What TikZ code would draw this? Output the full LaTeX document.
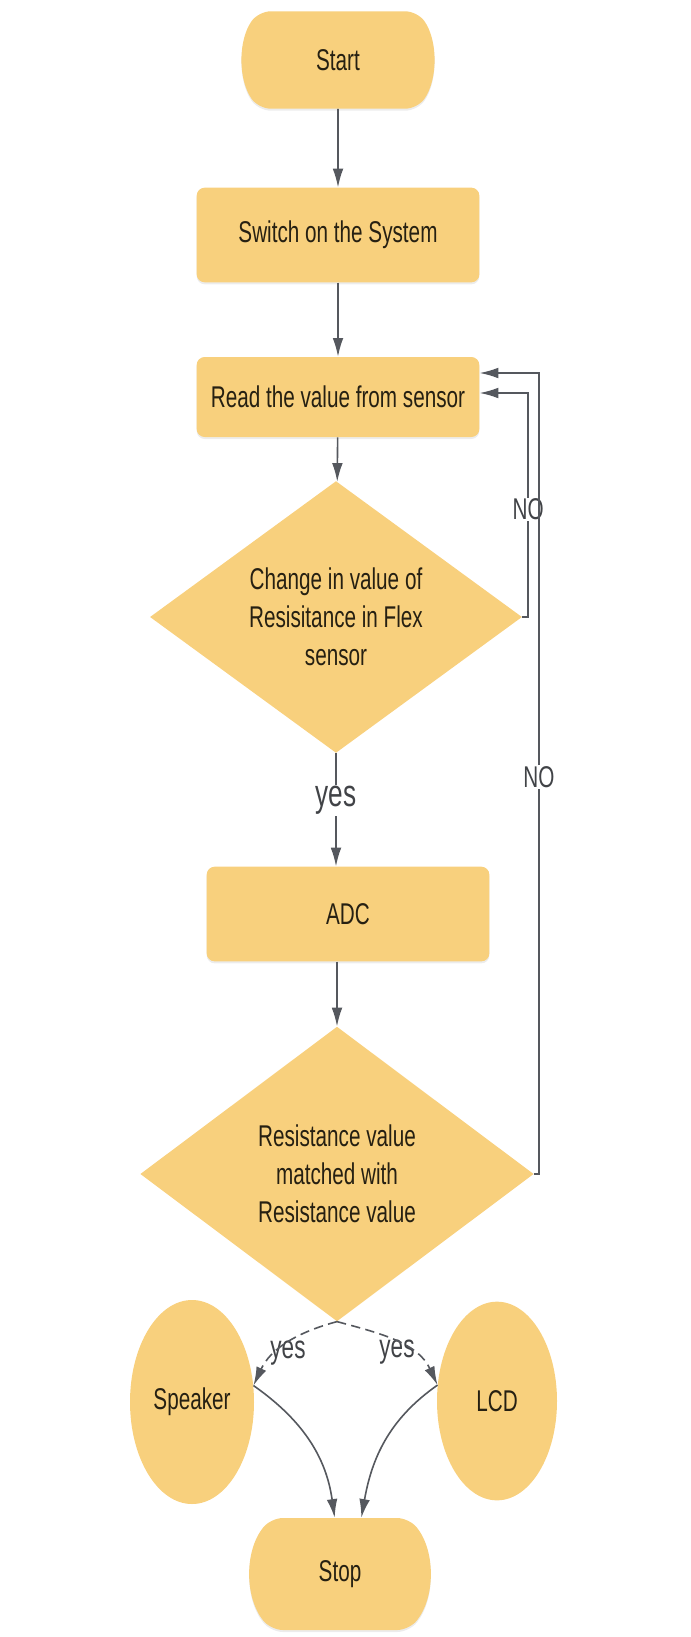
\documentclass[tikz,border=0pt]{standalone}
\usepackage{fontspec}
\setmainfont{Liberation Sans}[FakeStretch=0.69]
\usetikzlibrary{shapes.geometric,shapes.misc,arrows.meta,shadows}
\definecolor{boxfill}{RGB}{248,208,125}
\definecolor{boxtext}{RGB}{38,32,18}
\definecolor{lineclr}{RGB}{85,88,94}
\definecolor{labelclr}{RGB}{65,67,71}

\begin{document}
\begin{tikzpicture}[x=0.75pt,y=0.75pt,
    font=\fontsize{22.5}{28.5}\selectfont,
    terminal/.style ={rounded rectangle, rounded rectangle arc length=70, rounded corners=9pt,
        fill=boxfill, text=boxtext, minimum width=149pt, minimum height=73pt,
        drop shadow={shadow xshift=0pt, shadow yshift=-1.5pt, opacity=0.15}},
    process/.style ={rectangle, rounded corners=6pt, fill=boxfill, text=boxtext,
        minimum width=212pt, minimum height=71pt,
        drop shadow={shadow xshift=0pt, shadow yshift=-1.5pt, opacity=0.15}},
    decision/.style ={diamond, fill=boxfill, text=boxtext, align=center, inner sep=0pt},
    output/.style ={ellipse, fill=boxfill, text=boxtext},
    flow/.style ={draw=lineclr, line width=1.2pt, -{Latex[length=14pt,width=8pt]}},
    nolabel/.style ={fill=white, text=labelclr, inner sep=1pt},
    yeslabel/.style ={fill=white, text=labelclr, inner sep=1pt}]
   \useasboundingbox (0,0) rectangle (691,-1637);

   \node[terminal] (start) at (338,-60) {Start};
   \node[process] (switch) at (338,-235) {Switch on the System};
   \node[process, minimum height=60pt] (read) at (338,-397) {Read the value from sensor};
   \node[decision, minimum width=279pt, minimum height=172pt] (dia1) at (336,-617)
        {Change in value of\\Resisitance in Flex\\sensor};
   \node[process] (adc) at (348,-914) {ADC};
   \node[decision, minimum width=295pt, minimum height=221pt] (dia2) at (337,-1174)
        {Resistance value\\matched with\\Resistance value};
   \node[output, minimum width=93pt, minimum height=153pt] (speaker) at (192,-1402) {Speaker};
   \node[output, minimum width=90pt, minimum height=149pt] (lcd) at (497,-1401) {LCD};
   \node[terminal, rounded rectangle arc length=78, minimum width=100pt, minimum height=84pt]
        (stop) at (340,-1574) {Stop};

   \node[yeslabel, font=\fontsize{24.5}{28}\selectfont] (yesl) at (288,-1353) {yes};
   \node[yeslabel, font=\fontsize{24.5}{28}\selectfont] (yesr) at (397,-1352) {yes};

   \draw[flow] (start) -- (switch);
   \draw[flow] (switch) -- (read);
   \draw[flow] (read) -- (dia1);
   \draw[flow] (dia1.south) -- (dia1.south |- adc.north)
        node[yeslabel, pos=0.42, font=\fontsize{28.5}{32}\selectfont] {yes};
   \draw[flow] (dia2.north |- adc.south) -- (dia2.north);
   \draw[flow] (dia1.east) -- ++(6,0) |- node[nolabel, pos=0.24] {NO} ([yshift=3pt]read.east);
   \draw[flow] (dia2.east) -- ++(5,0) |- node[nolabel, pos=0.248] {NO} ([yshift=18pt]read.east);
   \draw[flow, dash pattern=on 7pt off 4pt] (dia2.south) to[out=195, in=65] (speaker.15);
   \draw[flow, dash pattern=on 7pt off 4pt] (dia2.south) to[out=-15, in=115] (lcd.165);
   \draw[flow] (speaker.15) to[out=-35, in=98] ([xshift=-4pt]stop.north);
   \draw[flow] (lcd.165) to[out=215, in=80] ([xshift=16pt]stop.north);
\end{tikzpicture}
\end{document}
